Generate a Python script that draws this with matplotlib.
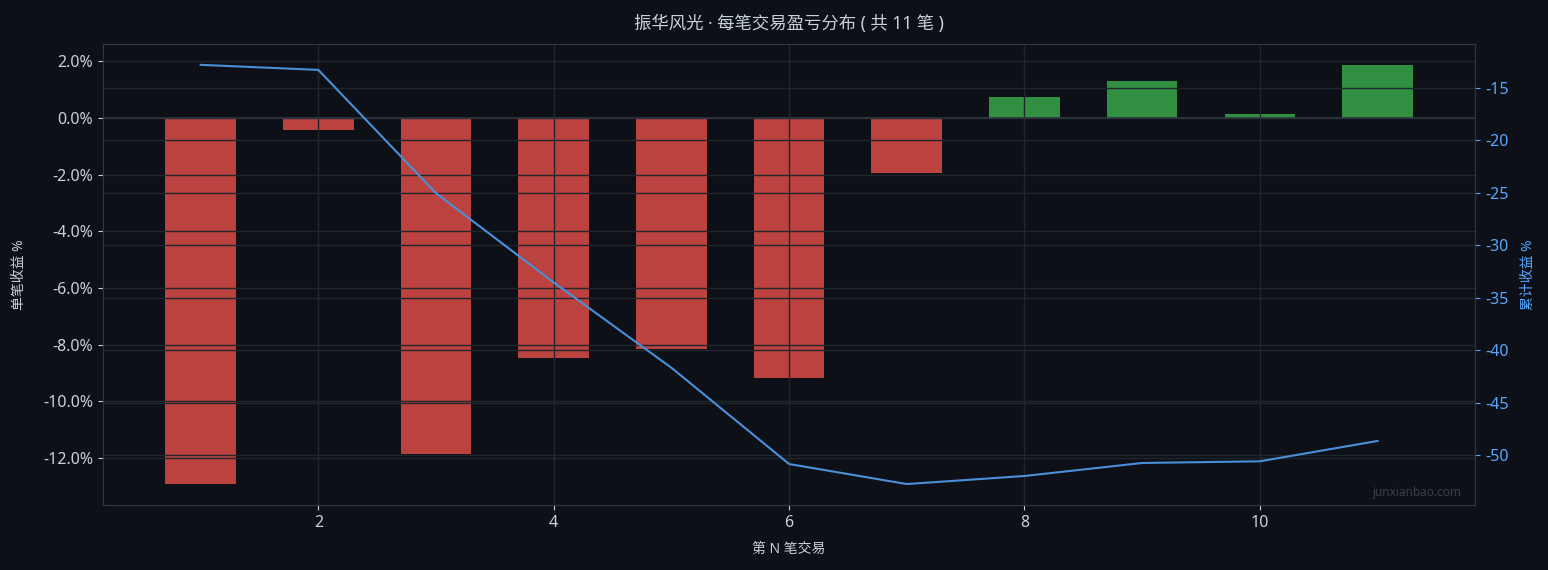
import numpy as np
import matplotlib
matplotlib.use('Agg')
import matplotlib.pyplot as plt

plt.rcParams['font.family'] = ['Noto Sans', 'Noto Sans CJK SC', 'DejaVu Sans']
plt.rcParams['axes.unicode_minus'] = False

# per-trade return (%)
trade_no = [1, 2, 3, 4, 5, 6, 7, 8, 9, 10, 11]
trade_ret = [-12.92, -0.42, -11.86, -8.46, -8.14, -9.17, -1.95, 0.74, 1.31, 0.14, 1.88]
# cumulative return (%)
cum_ret = [-12.8, -13.28, -25.04, -33.55, -41.68, -50.86, -52.77, -52.0, -50.76, -50.6, -48.66]

BG = '#0d1117'
GRID = '#21262d'
SPINE = '#30363d'
TEXT = '#c9d1d9'
BLUE = '#58a6ff'

fig, ax = plt.subplots(figsize=(15.48, 5.7), dpi=100)
fig.patch.set_facecolor(BG)
ax.set_facecolor(BG)

colors = ['#318f42' if v >= 0 else '#bc4240' for v in trade_ret]
ax.bar(trade_no, trade_ret, width=0.6, color=colors)
ax.axhline(0, color=SPINE, linewidth=1.2)

ax.yaxis.set_major_formatter(matplotlib.ticker.FuncFormatter(lambda v, p: f'{v:.1f}%'))
ax.set_xlabel('第 N 笔交易', color=TEXT, fontsize=10, labelpad=8)
ax.set_ylabel('单笔收益 %', color=TEXT, fontsize=10, labelpad=12)
ax.tick_params(colors=TEXT, labelsize=11.5)
ax.grid(True, color=GRID, linewidth=1)

ax2 = ax.twinx()
ax2.plot(trade_no, cum_ret, color='#4a90d9', linewidth=1.5)
ax2.set_ylabel('累计收益 %', color=BLUE, fontsize=10, labelpad=9)
ax2.tick_params(axis='y', colors=BLUE, labelsize=11.5)
ax2.grid(True, color=GRID, linewidth=1)

for a in (ax, ax2):
    for s in a.spines.values():
        s.set_color(SPINE)

ax.set_title('振华风光 · 每笔交易盈亏分布 ( 共 11 笔 )', color=TEXT, fontsize=12.5, pad=11)
ax.text(0.99, 0.012, 'junxianbao.com', transform=ax.transAxes, ha='right', va='bottom',
        color='#3a3f47', fontsize=8.5)

plt.subplots_adjust(left=0.0665, right=0.953, top=0.923, bottom=0.114)
plt.savefig('out.png', facecolor=BG)
